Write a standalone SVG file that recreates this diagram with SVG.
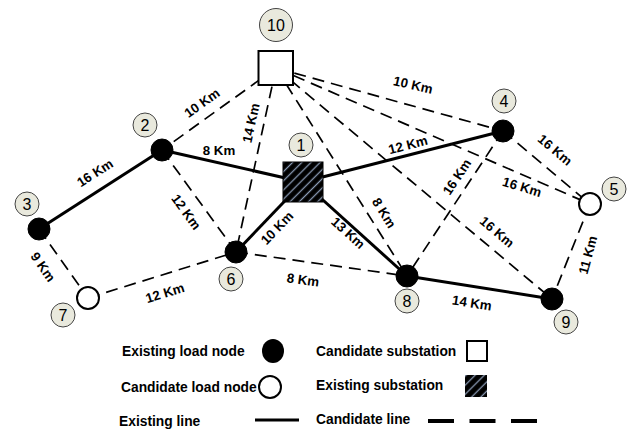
<svg xmlns="http://www.w3.org/2000/svg" width="630" height="432" viewBox="0 0 630 432">
<style>
.ex{stroke:#000;stroke-width:3;fill:none}
.ca{stroke:#000;stroke-width:1.7;fill:none;stroke-dasharray:12 7}
.lab{font-family:"Liberation Sans",Arial,sans-serif;font-weight:bold;font-size:13.3px;fill:#000;text-anchor:middle;dominant-baseline:central}
.leg{font-family:"Liberation Sans",Arial,sans-serif;font-weight:bold;font-size:13.8px;fill:#000}
.idc{fill:#e9e9dd;stroke:#444;stroke-width:1}
.idt{font-family:"Liberation Sans",Arial,sans-serif;font-size:16px;fill:#000;text-anchor:middle;dominant-baseline:central}
.fn{fill:#000;stroke:#000;stroke-width:1}
.on{fill:#fff;stroke:#000;stroke-width:2}
</style>
<defs>
<pattern id="hatch" patternUnits="userSpaceOnUse" width="12" height="6.5" patternTransform="rotate(-45)">
<rect width="12" height="6.5" fill="#000"/>
<line x1="0" y1="3.25" x2="12" y2="3.25" stroke="#8a9ab4" stroke-width="1.3"/>
</pattern>
</defs>
<g id="connectors">
<line class="ca" x1="276" y1="68" x2="162" y2="150"/>
<line class="ca" x1="276" y1="68" x2="236" y2="252"/>
<line class="ca" x1="276" y1="68" x2="503" y2="131"/>
<line class="ca" x1="276" y1="68" x2="590" y2="204"/>
<line class="ca" x1="276" y1="68" x2="552" y2="299"/>
<line class="ca" x1="276" y1="68" x2="407" y2="276"/>
<line class="ca" x1="162" y1="150" x2="236" y2="252"/>
<line class="ca" x1="39" y1="229" x2="88" y2="298"/>
<line class="ca" x1="88" y1="298" x2="236" y2="252"/>
<line class="ca" x1="236" y1="252" x2="407" y2="276"/>
<line class="ca" x1="503" y1="131" x2="407" y2="276"/>
<line class="ca" x1="503" y1="131" x2="590" y2="204"/>
<line class="ca" x1="590" y1="204" x2="552" y2="299"/>
<line class="ex" x1="39" y1="229" x2="162" y2="150"/>
<line class="ex" x1="162" y1="150" x2="303" y2="182"/>
<line class="ex" x1="303" y1="182" x2="503" y2="131"/>
<line class="ex" x1="303" y1="182" x2="236" y2="252"/>
<line class="ex" x1="303" y1="182" x2="407" y2="276"/>
<line class="ex" x1="407" y1="276" x2="552" y2="299"/>
<text class="lab" transform="translate(202,103) rotate(-35.7)">10 Km</text>
<text class="lab" transform="translate(251,123) rotate(-77.7)">14 Km</text>
<text class="lab" transform="translate(219,150)">8 Km</text>
<text class="lab" transform="translate(95,173) rotate(-32.7)">16 Km</text>
<text class="lab" transform="translate(186,212) rotate(54)">12 Km</text>
<text class="lab" transform="translate(277,228) rotate(-46)">10 Km</text>
<text class="lab" transform="translate(43,267) rotate(55)">9 Km</text>
<text class="lab" transform="translate(165,293) rotate(-17)">12 Km</text>
<text class="lab" transform="translate(303,280) rotate(8)">8 Km</text>
<text class="lab" transform="translate(348,233) rotate(42)">13 Km</text>
<text class="lab" transform="translate(384,213) rotate(58)">8 Km</text>
<text class="lab" transform="translate(457,177) rotate(-56.5)">16 Km</text>
<text class="lab" transform="translate(408,145) rotate(-14.3)">12 Km</text>
<text class="lab" transform="translate(413,85) rotate(13)">10 Km</text>
<text class="lab" transform="translate(555,150) rotate(40)">16 Km</text>
<text class="lab" transform="translate(522,187) rotate(17)">16 Km</text>
<text class="lab" transform="translate(497,232) rotate(40)">16 Km</text>
<text class="lab" transform="translate(588,255) rotate(-75)">11 Km</text>
<text class="lab" transform="translate(472,303) rotate(9)">14 Km</text>
</g>
<g id="node10">
<rect x="258.5" y="51" width="34.5" height="34" fill="#fff" stroke="#000" stroke-width="2"/>
<circle class="idc" cx="276" cy="25" r="16.5"/>
<text class="idt" x="276" y="25">10</text>
</g>
<g id="node1">
<rect x="283" y="162" width="40" height="40" fill="url(#hatch)" stroke="#000" stroke-width="1"/>
<circle class="idc" cx="301" cy="145" r="12"/>
<text class="idt" x="301" y="145">1</text>
</g>
<g id="node2">
<circle class="fn" cx="162" cy="150" r="11"/>
<circle class="idc" cx="145" cy="125" r="12"/>
<text class="idt" x="145" y="125">2</text>
</g>
<g id="node3">
<circle class="fn" cx="39" cy="229" r="11"/>
<circle class="idc" cx="27" cy="204" r="12"/>
<text class="idt" x="27" y="204">3</text>
</g>
<g id="node4">
<circle class="fn" cx="503" cy="131" r="11"/>
<circle class="idc" cx="504" cy="101" r="12"/>
<text class="idt" x="504" y="101">4</text>
</g>
<g id="node5">
<circle class="on" cx="590" cy="204" r="11"/>
<circle class="idc" cx="614" cy="189" r="12"/>
<text class="idt" x="614" y="189">5</text>
</g>
<g id="node6">
<circle class="fn" cx="236" cy="252" r="11"/>
<circle class="idc" cx="231" cy="279" r="12"/>
<text class="idt" x="231" y="279">6</text>
</g>
<g id="node7">
<circle class="on" cx="88" cy="298" r="11"/>
<circle class="idc" cx="63" cy="315" r="12"/>
<text class="idt" x="63" y="315">7</text>
</g>
<g id="node8">
<circle class="fn" cx="407" cy="276" r="11"/>
<circle class="idc" cx="407" cy="301" r="12"/>
<text class="idt" x="407" y="301">8</text>
</g>
<g id="node9">
<circle class="fn" cx="552" cy="299" r="11"/>
<circle class="idc" cx="566" cy="322" r="12"/>
<text class="idt" x="566" y="322">9</text>
</g>
<g id="legend">
<text class="leg" x="122" y="356">Existing load node</text>
<ellipse cx="273" cy="351" rx="11" ry="12" fill="#000"/>
<text class="leg" x="316" y="356">Candidate substation</text>
<rect x="467" y="341" width="20" height="20" fill="#fff" stroke="#000" stroke-width="2"/>
<text class="leg" x="121" y="392">Candidate load node</text>
<circle cx="270" cy="387" r="11" fill="#fff" stroke="#000" stroke-width="2"/>
<text class="leg" x="316" y="390">Existing substation</text>
<rect x="465" y="375" width="22" height="22" fill="url(#hatch)"/>
<text class="leg" x="119" y="426">Existing line</text>
<line x1="255" y1="420" x2="299" y2="420" stroke="#000" stroke-width="3"/>
<text class="leg" x="316" y="424">Candidate line</text>
<line x1="428" y1="421" x2="537" y2="421" stroke="#000" stroke-width="4" stroke-dasharray="26 15.5"/>
</g>
</svg>
